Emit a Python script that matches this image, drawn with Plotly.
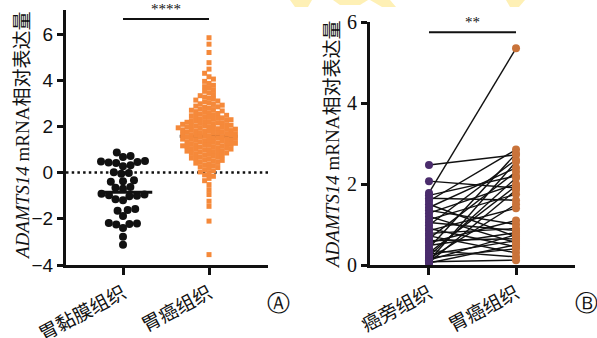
import numpy as np
import plotly.graph_objects as go

# ---------------- data ----------------
cats_a = ["胃黏膜组织", "胃癌组织"]
cats_b = ["癌旁组织", "胃癌组织"]

mucosa_a = [0.87, 0.72, 0.68, 0.5, 0.48, 0.46, 0.44, 0.42, 0.32, 0.28,
            0.02, -0.02, -0.05, -0.33, -0.37, -0.4, -0.62, -0.66, -0.7,
            -0.92, -0.95, -0.98, -1.0, -1.02, -1.15, -1.2, -1.58, -1.62,
            -1.65, -1.88, -2.18, -2.2, -2.22, -2.25, -2.4, -2.78, -3.12]

cancer_a = [5.84, 5.56, 5.2, 4.76, 4.48,
            4.30,
            4.05, 4.15,
            3.86, 3.95,
            3.66, 3.72, 3.78,
            3.45, 3.52, 3.58,
            3.22, 3.27, 3.33, 3.38,
            3.02, 3.06, 3.1, 3.14, 3.18,
            2.82, 2.85, 2.88, 2.92, 2.95, 2.98,
            2.61, 2.64, 2.67, 2.7, 2.73, 2.76, 2.79,
            2.41, 2.43, 2.46, 2.48, 2.51, 2.54, 2.56, 2.59,
            2.21, 2.23, 2.25, 2.27, 2.29, 2.31, 2.33, 2.35, 2.37, 2.39,
            2.01, 2.02, 2.04, 2.05, 2.07, 2.09, 2.11, 2.13, 2.15, 2.16, 2.18, 2.19,
            1.81, 1.82, 1.84, 1.85, 1.87, 1.88, 1.9, 1.91, 1.93, 1.94, 1.96, 1.97, 1.99,
            1.61, 1.62, 1.64, 1.65, 1.67, 1.68, 1.7, 1.71, 1.73, 1.75, 1.76, 1.78, 1.79,
            1.41, 1.42, 1.44, 1.45, 1.47, 1.48, 1.5, 1.51, 1.53, 1.55, 1.56, 1.58, 1.59,
            1.21, 1.22, 1.24, 1.26, 1.27, 1.29, 1.31, 1.32, 1.34, 1.36, 1.38, 1.39,
            1.01, 1.02, 1.04, 1.06, 1.08, 1.1, 1.11, 1.13, 1.15, 1.16, 1.18, 1.19,
            0.81, 0.83, 0.85, 0.87, 0.89, 0.91, 0.93, 0.95, 0.97, 0.99,
            0.61, 0.63, 0.66, 0.68, 0.71, 0.74, 0.76, 0.79,
            0.41, 0.44, 0.47, 0.5, 0.53, 0.56, 0.59,
            0.22, 0.26, 0.3, 0.34, 0.38,
            0.03, 0.08, 0.13, 0.18,
            -0.04, -0.1, -0.16,
            -0.25, -0.35,
            -0.52, -0.74,
            -0.95, -1.24, -1.46, -2.1, -3.55]

means_a = [-0.85, 1.57]

adjacent_b = [2.47, 2.07, 1.78, 1.72, 1.65, 1.58, 1.5, 1.42, 1.35, 1.28,
              1.2, 1.12, 1.05, 0.98, 0.9, 0.85, 0.78, 0.72, 0.65, 0.6,
              0.55, 0.48, 0.42, 0.36, 0.3, 0.26, 0.22, 0.18, 0.15, 0.12,
              0.1, 0.08, 0.06, 0.05]
cancer_b = [2.72, 1.9, 5.35, 2.2, 1.6, 2.85, 0.7, 2.4, 1.0, 2.0,
            0.55, 1.75, 0.85, 2.6, 0.45, 1.4, 0.9, 0.3, 2.3, 0.65,
            1.1, 0.8, 2.75, 0.2, 1.95, 0.6, 2.15, 0.4, 1.5, 0.75,
            2.55, 0.12, 1.85, 0.5]

ticks_a = [-4, -2, 0, 2, 4, 6]
ticks_b = [0, 2, 4, 6]

# ---------------- layout geometry ----------------
W, H = 597, 338
XA = [66 / W, 268 / W]
XB = [370 / W, 575 / W]
YA = [1 - 265 / H, 1 - 10 / H]
YB = [1 - 265 / H, 1 - 22 / H]
xr_a = [-0.663, 1.686]
yr_a = [-4, 7.04]
xr_b = [-0.678, 1.678]
yr_b = [0, 6]

xpx_a = (XA[1] - XA[0]) * W / (xr_a[1] - xr_a[0])
ypx_a = (YA[1] - YA[0]) * H / (yr_a[1] - yr_a[0])


def beeswarm(vals, diam, square=False):
    """Return x offsets (data units) for a deterministic beeswarm layout."""
    vals = np.asarray(vals, float)
    order = np.argsort(vals)
    ys = vals * ypx_a
    placed = []
    xs = np.zeros(len(vals))
    for i in order:
        y = ys[i]
        intervals = []
        for (px, py) in placed:
            dy = abs(py - y)
            if dy < diam:
                hw = diam if square else np.sqrt(diam ** 2 - dy ** 2)
                intervals.append((px - hw, px + hw))
        cands = [0.0] + [a for a, b in intervals] + [b for a, b in intervals]
        cands.sort(key=lambda c: (abs(c), c))
        for c in cands:
            if all(not (a + 1e-6 < c < b - 1e-6) for a, b in intervals):
                xs[i] = c
                break
        placed.append((xs[i], y))
    return xs / xpx_a


off_m = beeswarm(mucosa_a, 7.6)
off_c = beeswarm(cancer_a, 4.4, square=True)

BLACK = "#111111"
ORANGE_A = "#F5893A"
PURPLE = "#4A2C6C"
ORANGE_B = "#C9733A"

fig = go.Figure()

fig.add_trace(go.Scatter(x=xr_a, y=[0, 0], mode="lines",
                         line=dict(color=BLACK, width=2.5, dash="2.5px,3.2px"),
                         xaxis="x", yaxis="y", hoverinfo="skip"))
fig.add_trace(go.Scatter(x=[1 - 0.34, 1 + 0.33], y=[means_a[1]] * 2, mode="lines",
                         line=dict(color=BLACK, width=3), xaxis="x", yaxis="y"))
fig.add_trace(go.Scatter(x=0 + off_m, y=mucosa_a, mode="markers",
                         marker=dict(symbol="circle", size=8, color=BLACK),
                         xaxis="x", yaxis="y"))
fig.add_trace(go.Scatter(x=1 + off_c, y=cancer_a, mode="markers",
                         marker=dict(symbol="square", size=5, color=ORANGE_A),
                         xaxis="x", yaxis="y"))
fig.add_trace(go.Scatter(x=[-0.27, 0.34], y=[means_a[0]] * 2, mode="lines",
                         line=dict(color=BLACK, width=3), xaxis="x", yaxis="y"))
fig.add_trace(go.Scatter(x=[0, 1], y=[6.65, 6.65], mode="lines",
                         line=dict(color=BLACK, width=2), xaxis="x", yaxis="y",
                         cliponaxis=False))

lx, ly = [], []
for a, b in zip(adjacent_b, cancer_b):
    lx += [0, 1, None]
    ly += [a, b, None]
fig.add_trace(go.Scatter(x=lx, y=ly, mode="lines", line=dict(color=BLACK, width=1.4),
                         xaxis="x2", yaxis="y2", cliponaxis=False))
fig.add_trace(go.Scatter(x=[0] * len(adjacent_b), y=adjacent_b, mode="markers",
                         marker=dict(size=8, color=PURPLE), xaxis="x2", yaxis="y2",
                         cliponaxis=False))
fig.add_trace(go.Scatter(x=[1] * len(cancer_b), y=cancer_b, mode="markers",
                         marker=dict(size=8, color=ORANGE_B), xaxis="x2", yaxis="y2",
                         cliponaxis=False))
fig.add_trace(go.Scatter(x=[0, 1], y=[5.75, 5.75], mode="lines",
                         line=dict(color=BLACK, width=2), xaxis="x2", yaxis="y2",
                         cliponaxis=False))

axis_common = dict(showgrid=False, zeroline=False, showline=True, linecolor=BLACK,
                   linewidth=3, ticks="outside", tickcolor=BLACK, tickwidth=3,
                   automargin=False)

fig.update_layout(
    width=W, height=H, margin=dict(l=0, r=0, t=0, b=0, autoexpand=False),
    paper_bgcolor="white", plot_bgcolor="white", showlegend=False,
    xaxis=dict(domain=XA, range=xr_a, anchor="y", tickvals=[0, 1], ticktext=cats_a,
               ticklen=7, tickangle=-28,
               tickfont=dict(family="Noto Sans CJK SC", size=19, color=BLACK),
               **axis_common),
    yaxis=dict(domain=YA, range=yr_a, anchor="x", tickvals=ticks_a,
               ticktext=[str(t).replace("-", "\u2212") for t in ticks_a],
               ticklen=6, tickfont=dict(family="Liberation Sans", size=19, color=BLACK),
               **axis_common),
    xaxis2=dict(domain=XB, range=xr_b, anchor="y2", tickvals=[0, 1], ticktext=cats_b,
                ticklen=7, tickangle=-28,
                tickfont=dict(family="Noto Sans CJK SC", size=19, color=BLACK),
                **axis_common),
    yaxis2=dict(domain=YB, range=yr_b, anchor="x2", tickvals=ticks_b,
                ticklen=6, tickfont=dict(family="Liberation Serif", size=20, color=BLACK),
                **axis_common),
)


def ppath(pts):
    return "M " + " L ".join(f"{x / W:.4f},{1 - y / H:.4f}" for x, y in pts) + " Z"


# faint watermark patches at the top edge
for pts in [[(290, 0), (312, 0), (308, 7), (295, 7)],
            [(333, 0), (368, 0), (360, 5), (340, 5)],
            [(370, 0), (390, 0), (396, 7), (382, 7)],
            [(506, 0), (525, 0), (519, 7), (510, 7)]]:
    fig.add_shape(type="path", xref="paper", yref="paper", path=ppath(pts),
                  fillcolor="#FEF0B5", line=dict(width=0), layer="below")

title = "<i>ADAMTS14</i> mRNA相对表达量"
tfont = dict(family="Liberation Serif, Noto Sans CJK SC", size=19, color=BLACK)
fig.add_annotation(text=title, textangle=-90, xref="paper", yref="paper",
                   x=22 / W, y=1 - 136 / H, xanchor="center", yanchor="middle",
                   showarrow=False, font=tfont)
fig.add_annotation(text=title, textangle=-90, xref="paper", yref="paper",
                   x=332 / W, y=1 - 145 / H, xanchor="center", yanchor="middle",
                   showarrow=False, font=tfont)
fig.add_annotation(text="****", xref="x", yref="y", x=0.5, y=6.65, yanchor="bottom",
                   showarrow=False, font=dict(family="Liberation Serif", size=15, color=BLACK))
fig.add_annotation(text="**", xref="x2", yref="y2", x=0.5, y=5.75, yanchor="bottom",
                   showarrow=False, font=dict(family="Liberation Serif", size=15, color=BLACK))
fig.add_annotation(text="Ⓐ", xref="paper", yref="paper", x=278 / W, y=1 - 303 / H,
                   xanchor="center", yanchor="middle",
                   showarrow=False, font=dict(family="DejaVu Serif", size=23, color=BLACK))
fig.add_annotation(text="Ⓑ", xref="paper", yref="paper", x=586 / W, y=1 - 303 / H,
                   xanchor="center", yanchor="middle",
                   showarrow=False, font=dict(family="DejaVu Serif", size=23, color=BLACK))

fig.write_html("out.html")
